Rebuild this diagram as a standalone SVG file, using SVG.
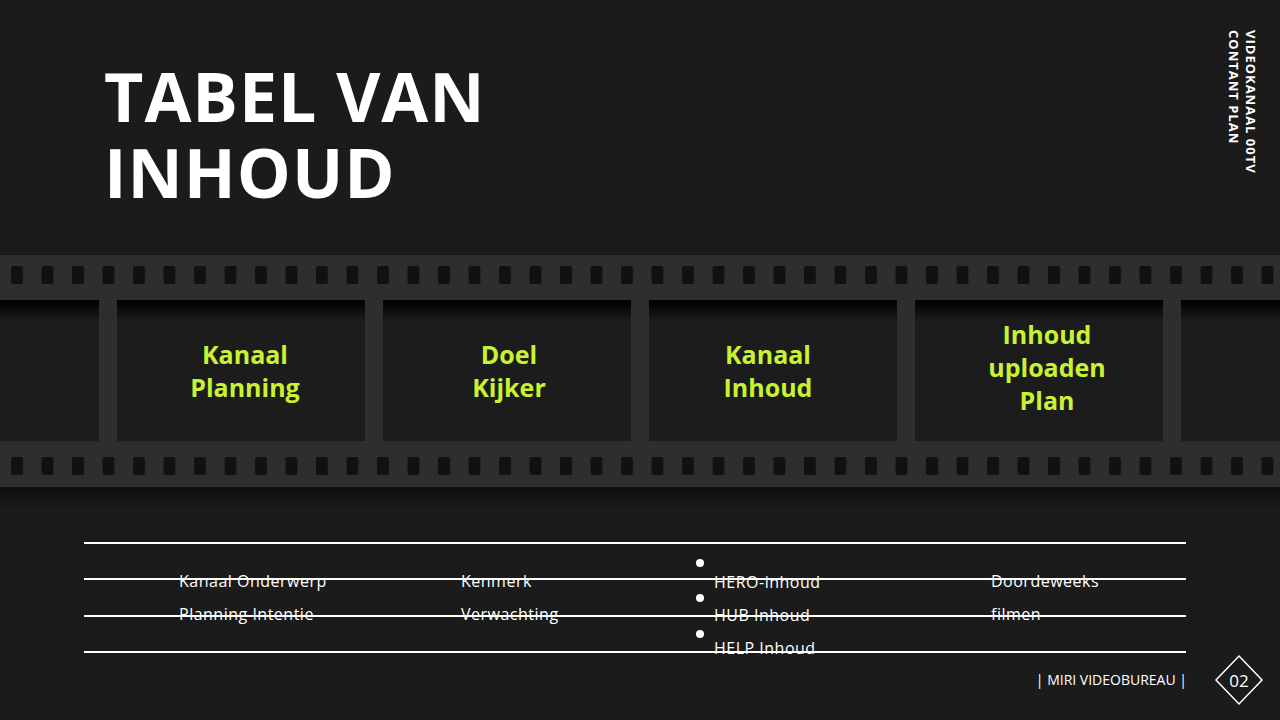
<svg xmlns="http://www.w3.org/2000/svg" width="1280" height="720" viewBox="0 0 1280 720">
<defs>
<style>
.t{font-family:"Open Sans","Liberation Sans",sans-serif;fill:#fff}
.g{font-family:"Open Sans","Liberation Sans",sans-serif;font-weight:700;font-size:25px;fill:#c8f232;text-anchor:middle}
.b{font-size:16px;letter-spacing:0.5px}
.ln{stroke:#fff;stroke-width:2}
</style>
<pattern id="holes" x="11" y="0" width="30.5" height="720" patternUnits="userSpaceOnUse">
<rect x="0" y="266" width="12" height="18" rx="2" fill="#111"/>
<rect x="0" y="457" width="12" height="18" rx="2" fill="#111"/>
</pattern>
<linearGradient id="sh" x1="0" y1="0" x2="0" y2="1">
<stop offset="0" stop-color="#000"/><stop offset="0.15" stop-color="#1c1c1c"/><stop offset="1" stop-color="#1c1c1c"/>
</linearGradient>
<linearGradient id="bs" x1="0" y1="0" x2="0" y2="1">
<stop offset="0" stop-color="#0e0e0e"/><stop offset="1" stop-color="#1b1b1b"/>
</linearGradient>
</defs>
<rect width="1280" height="720" fill="#1b1b1b"/>
<g id="title"><text class="t" x="104" y="122" font-size="68" font-weight="700" letter-spacing="1">TABEL VAN</text>
<text class="t" x="104" y="198" font-size="68" font-weight="700" letter-spacing="1">INHOUD</text></g>
<g id="side" transform="translate(1246,30) rotate(90)">
<text class="t" x="0" y="0" font-size="13" font-weight="700" letter-spacing="1">VIDEOKANAAL 00TV</text>
<text class="t" x="0" y="17" font-size="13" font-weight="700" letter-spacing="1">CONTANT PLAN</text></g>
<g id="film">
<rect x="0" y="487" width="1280" height="25" fill="url(#bs)"/>
<rect x="0" y="255" width="1280" height="232" fill="#2e2e2e"/>
<rect x="0" y="255" width="1280" height="232" fill="url(#holes)"/>
<rect x="0" y="300" width="99" height="141" fill="url(#sh)"/>
<rect x="117" y="300" width="248" height="141" fill="url(#sh)"/>
<rect x="383" y="300" width="248" height="141" fill="url(#sh)"/>
<rect x="649" y="300" width="248" height="141" fill="url(#sh)"/>
<rect x="915" y="300" width="248" height="141" fill="url(#sh)"/>
<rect x="1181" y="300" width="99" height="141" fill="url(#sh)"/>
</g>
<g id="n1"><text class="g" x="245" y="364">Kanaal</text><text class="g" x="245" y="397">Planning</text></g>
<g id="n2"><text class="g" x="509" y="364">Doel</text><text class="g" x="509" y="397">Kijker</text></g>
<g id="n3"><text class="g" x="768" y="364">Kanaal</text><text class="g" x="768" y="397">Inhoud</text></g>
<g id="n4"><text class="g" x="1047" y="344">Inhoud</text><text class="g" x="1047" y="377">uploaden</text><text class="g" x="1047" y="410">Plan</text></g>
<g id="table">
<line class="ln" x1="84" y1="543" x2="1186" y2="543"/>
<text class="t b" x="179" y="587">Kanaal Onderwerp</text>
<text class="t b" x="179" y="620">Planning Intentie</text>
<text class="t b" x="461" y="587">Kenmerk</text>
<text class="t b" x="461" y="620">Verwachting</text>
<circle cx="700" cy="563" r="4" fill="#fff"/><circle cx="700" cy="598" r="4" fill="#fff"/><circle cx="700" cy="634" r="4" fill="#fff"/>
<text class="t b" x="714" y="588">HERO-inhoud</text>
<text class="t b" x="714" y="621">HUB Inhoud</text>
<text class="t b" x="714" y="654">HELP Inhoud</text>
<text class="t b" x="991" y="587">Doordeweeks</text>
<text class="t b" x="991" y="620">filmen</text>
<line class="ln" x1="84" y1="579" x2="1186" y2="579"/>
<line class="ln" x1="84" y1="616" x2="1186" y2="616"/>
<line class="ln" x1="84" y1="652" x2="1186" y2="652"/>
</g>
<g id="footer">
<text class="t" x="1187" y="685" font-size="14" text-anchor="end">| MIRI VIDEOBUREAU |</text>
<polygon points="1239,656 1262,680 1239,704 1216,680" fill="none" stroke="#fff" stroke-width="1.5"/>
<text class="t" x="1239" y="687" font-size="17" text-anchor="middle">02</text>
</g>
</svg>
